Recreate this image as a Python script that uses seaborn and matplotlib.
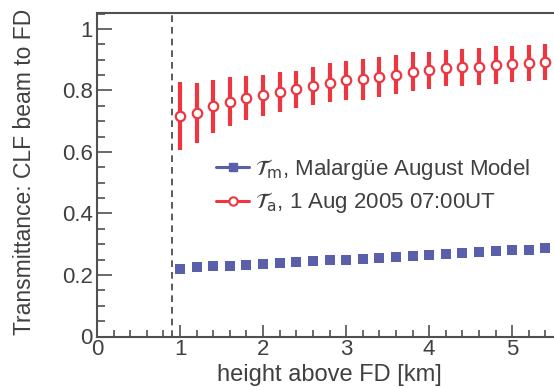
import numpy as np
import pandas as pd
import matplotlib
matplotlib.use("Agg")
import matplotlib.pyplot as plt
from matplotlib.lines import Line2D
from matplotlib.ticker import MultipleLocator, FuncFormatter
import seaborn as sns

# ---- data ----
heights = [1.0, 1.2, 1.4, 1.6, 1.8, 2.0, 2.2, 2.4, 2.6, 2.8, 3.0, 3.2,
           3.4, 3.6, 3.8, 4.0, 4.2, 4.4, 4.6, 4.8, 5.0, 5.2, 5.4]
t_model = [0.221, 0.226, 0.228, 0.230, 0.234, 0.237, 0.240, 0.242, 0.245,
           0.248, 0.250, 0.253, 0.256, 0.259, 0.262, 0.266, 0.268, 0.271,
           0.275, 0.278, 0.280, 0.282, 0.288]
t_aerosol = [0.717, 0.727, 0.749, 0.763, 0.776, 0.784, 0.795, 0.804, 0.814,
             0.825, 0.833, 0.836, 0.844, 0.852, 0.861, 0.866, 0.872, 0.875,
             0.878, 0.883, 0.886, 0.890, 0.893]
t_aerosol_err = [0.110, 0.097, 0.086, 0.080, 0.072, 0.067, 0.064, 0.061,
                 0.061, 0.064, 0.064, 0.067, 0.064, 0.064, 0.064, 0.060,
                 0.059, 0.061, 0.061, 0.061, 0.059, 0.059, 0.059]
fd_cut = 0.9
label_m = r"$\mathcal{T}_{\rm m}$, Malargüe August Model"
label_a = r"$\mathcal{T}_{\rm a}$, 1 Aug 2005 07:00UT"

sns.set_theme(style="white")
plt.rcParams['font.family'] = ['Liberation Sans', 'DejaVu Sans']
plt.rcParams['mathtext.fontset'] = 'dejavusans'

blue = "#5a5fab"
red = "#ee3640"
txt = "#404040"
spine = "#505050"

W, H = 554, 387
fig = plt.figure(figsize=(W / 100, H / 100), dpi=100)
left_px, right_px, top_px, bot_px = 97, 562, 13, 336.5
ax = fig.add_axes([left_px / W, (H - bot_px) / H,
                   (right_px - left_px) / W, (bot_px - top_px) / H])

df_m = pd.DataFrame({"h": heights, "t": t_model})
df_a = pd.DataFrame({"h": heights, "t": t_aerosol, "e": t_aerosol_err})

ax.axvline(fd_cut, color="#404040", lw=1.2, ls=(0, (4, 3)), zorder=1)

sns.scatterplot(data=df_m, x="h", y="t", marker="s", s=44, color=blue,
                edgecolor=blue, linewidth=0, ax=ax, zorder=3, legend=False)
ax.errorbar(df_a["h"], df_a["t"], yerr=df_a["e"], fmt="none",
            ecolor=red, elinewidth=3.0, capsize=0, zorder=3)
sns.scatterplot(data=df_a, x="h", y="t", marker="o", s=46,
                facecolor="white", edgecolor=red, linewidth=1.6,
                ax=ax, zorder=4, legend=False)

ax.set_xlim(0, 5.6)
ax.set_ylim(0, 1.052)

ax.xaxis.set_major_locator(MultipleLocator(1))
ax.xaxis.set_minor_locator(MultipleLocator(0.2))
ax.yaxis.set_major_locator(MultipleLocator(0.2))
ax.yaxis.set_minor_locator(MultipleLocator(0.05))
ax.yaxis.set_major_formatter(FuncFormatter(lambda v, p: f"{v:g}"))
ax.xaxis.set_major_formatter(FuncFormatter(lambda v, p: f"{v:g}"))

ax.tick_params(axis="both", which="both", direction="in", colors=spine,
               labelcolor=txt, labelsize=16, bottom=True, left=True,
               top=False, right=False)
ax.tick_params(axis="y", which="major", length=11, width=1.2, pad=3)
ax.tick_params(axis="y", which="minor", length=6, width=1.2)
ax.tick_params(axis="x", which="major", length=9, width=1.2, pad=2)
ax.tick_params(axis="x", which="minor", length=5, width=1.2)

for s in ["left", "bottom", "top"]:
    ax.spines[s].set_color(spine)
    ax.spines[s].set_linewidth(1.5)
ax.spines["right"].set_visible(False)

ax.set_xlabel("height above FD [km]", fontsize=17, color=txt)
ax.set_ylabel("Transmittance: CLF beam to FD", fontsize=16.5, color=txt)
ax.xaxis.set_label_coords(0.5, -0.12)
ax.yaxis.set_label_coords(-0.155, 0.51)
ax.yaxis.label.set_va("center")
ax.xaxis.label.set_va("center")

handles = [
    Line2D([0], [0], color=blue, lw=2.2, marker="s", markersize=6,
           markerfacecolor=blue, markeredgecolor=blue),
    Line2D([0], [0], color=red, lw=2.2, marker="o", markersize=6,
           markerfacecolor="white", markeredgecolor=red, markeredgewidth=1.5),
]
leg = ax.legend(handles, [label_m, label_a], loc="upper left",
                bbox_to_anchor=((216 - left_px) / (right_px - left_px),
                                (bot_px - 157) / (bot_px - top_px)),
                frameon=False, fontsize=16, handlelength=1.5,
                handletextpad=0.25, labelspacing=0.38, borderaxespad=0,
                borderpad=0)
for t in leg.get_texts():
    t.set_color(txt)

fig.savefig("out.png", dpi=100)
